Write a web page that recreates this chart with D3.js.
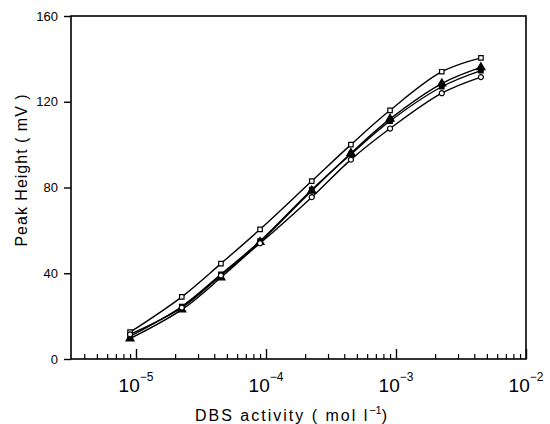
<!DOCTYPE html>
<html>
<head>
<meta charset="utf-8">
<script src="https://cdn.jsdelivr.net/npm/d3@7"></script>
<style>
  body { margin: 0; background: #fff; }
  svg { font-family: 'Liberation Sans', Arial, sans-serif; }
</style>
</head>
<body>
<div id="chart"></div>
<script>
// Data
const activity = [9e-6, 2.25e-5, 4.5e-5, 9e-5, 2.25e-4, 4.5e-4, 9e-4, 2.25e-3, 4.5e-3];
const openSquares = [12.5, 29, 44.5, 60.5, 83, 100, 116, 134, 140.5];
const filledTriangles = [9.5, 23, 38, 54.5, 78.5, 96, 112, 128.5, 136];
const filledSquares = [10.5, 24.5, 39.5, 55, 79, 95.5, 111, 127, 134.5];
const openCircles = [11.5, 24, 39, 54, 75.5, 93, 107.5, 124, 131.5];
const yTicks = [0, 40, 80, 120, 160];
const xDecades = [-5, -4, -3, -2];

const series = [
  { values: openSquares, marker: 'square', fill: '#fff' },
  { values: filledTriangles, marker: 'triangle', fill: '#000' },
  { values: filledSquares, marker: 'square', fill: '#000' },
  { values: openCircles, marker: 'circle', fill: '#fff' }
];

const width = 550;
const height = 424;
const margin = { top: 16, right: 24, bottom: 65, left: 71 };
const w = width - margin.left - margin.right;
const h = height - margin.top - margin.bottom;

const svg = d3.select('#chart').append('svg')
  .attr('width', width)
  .attr('height', height);

const g = svg.append('g').attr('transform', `translate(${margin.left},${margin.top})`);

// Scales
const x = d3.scaleLog().domain([Math.pow(10, -5.5), 1e-2]).range([0, w]);
const y = d3.scaleLinear().domain([0, 160]).range([h, 0]);

// Frame
g.append('rect')
  .attr('width', w)
  .attr('height', h)
  .attr('fill', 'none')
  .attr('stroke', '#000')
  .attr('stroke-width', 1.6);

// Y axis (ticks outward)
const yAxis = d3.axisLeft(y).tickValues(yTicks).tickSize(7).tickPadding(6);
const yg = g.append('g').call(yAxis);
yg.select('.domain').remove();
yg.selectAll('line').attr('stroke-width', 1.4);
yg.selectAll('text').attr('font-size', 13).attr('fill', '#000');

// X axis minor/major ticks pointing inward
const minor = [];
for (let e = -6; e < -2; e++) {
  for (let m = 2; m <= 9; m++) {
    const v = m * Math.pow(10, e);
    if (v > x.domain()[0] && v < 1e-2) minor.push(v);
  }
}
const xAxisMinor = d3.axisTop(x).tickValues(minor).tickSize(5).tickFormat('');
const xgm = g.append('g').attr('transform', `translate(0,${h})`).call(xAxisMinor);
xgm.select('.domain').remove();
xgm.selectAll('line').attr('stroke-width', 1.2);

const xAxisMajor = d3.axisTop(x).tickValues(xDecades.map(d => Math.pow(10, d))).tickSize(10).tickFormat('');
const xgM = g.append('g').attr('transform', `translate(0,${h})`).call(xAxisMajor);
xgM.select('.domain').remove();
xgM.selectAll('line').attr('stroke-width', 1.4);

// X tick labels 10^n
xDecades.forEach(d => {
  const t = g.append('text')
    .attr('x', x(Math.pow(10, d)))
    .attr('y', h + 33)
    .attr('text-anchor', 'middle')
    .attr('font-size', 19);
  t.append('tspan').text('10');
  t.append('tspan').attr('dy', -11).attr('font-size', 12).text('\u2212' + Math.abs(d));
});

// Axis titles
svg.append('text')
  .attr('x', 292)
  .attr('y', 421)
  .attr('text-anchor', 'middle')
  .attr('font-size', 16)
  .attr('letter-spacing', 2)
  .html('DBS activity ( mol l<tspan dy="-7" font-size="11" letter-spacing="0">\u22121</tspan><tspan dy="7">)</tspan>');

svg.append('text')
  .attr('transform', `translate(27,170) rotate(-90)`)
  .attr('text-anchor', 'middle')
  .attr('font-size', 16)
  .attr('letter-spacing', 1)
  .text('Peak Height ( mV )');

// Curves
const line = d3.line()
  .x((d, i) => x(activity[i]))
  .y(d => y(d))
  .curve(d3.curveCatmullRom.alpha(0.5));

series.forEach(s => {
  g.append('path')
    .datum(s.values)
    .attr('fill', 'none')
    .attr('stroke', '#000')
    .attr('stroke-width', 1.4)
    .attr('d', line);
});

// Markers
const sym = {
  square: d3.symbolSquare,
  triangle: d3.symbolTriangle,
  circle: d3.symbolCircle
};
series.forEach(s => {
  g.selectAll(null)
    .data(s.values)
    .enter()
    .append('path')
    .attr('transform', (d, i) => `translate(${x(activity[i])},${y(d)})`)
    .attr('d', d3.symbol().type(sym[s.marker]).size(s.marker === 'triangle' ? 28 : 20))
    .attr('fill', s.fill)
    .attr('stroke', '#000')
    .attr('stroke-width', 1.2);
});
</script>
</body>
</html>
